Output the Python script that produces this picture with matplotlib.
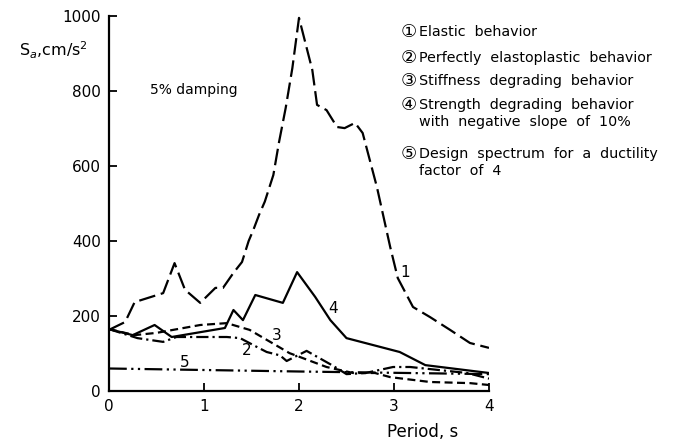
import matplotlib
matplotlib.use("Agg")
import matplotlib.pyplot as plt

# ---- data (period in s, Sa in cm/s^2) ----
period_1 = [0, 0.17, 0.27, 0.57, 0.69, 0.80, 0.96, 1.12, 1.20, 1.31, 1.40, 1.47, 1.52,
            1.58, 1.64, 1.73, 1.79, 1.86, 1.93, 2.00, 2.14, 2.19, 2.29, 2.40, 2.48,
            2.59, 2.67, 2.82, 2.96, 3.04, 3.20, 3.38, 3.59, 3.80, 4.00]
sa_1 = [163, 184, 237, 261, 341, 270, 235, 275, 275, 315, 344, 400, 430,
        470, 505, 576, 664, 755, 861, 995, 856, 763, 749, 704, 701,
        715, 688, 544, 384, 301, 224, 197, 163, 128, 115]

period_2 = [0, 0.30, 0.57, 0.71, 1.24, 1.38, 1.56, 1.66, 1.80, 1.87, 2.08, 2.36,
            2.50, 2.70, 2.99, 3.17, 3.77, 4.00]
sa_2 = [165, 141, 131, 144, 144, 141, 117, 104, 95, 80, 107, 67,
        45, 48, 64, 64, 48, 33]

period_3 = [0, 0.27, 0.50, 0.96, 1.24, 1.48, 1.90, 2.29, 2.57, 2.80, 2.96, 3.38, 3.80, 4.00]
sa_3 = [165, 149, 155, 176, 181, 163, 101, 64, 48, 48, 37, 24, 21, 16]

period_4 = [0, 0.25, 0.48, 0.66, 1.22, 1.31, 1.41, 1.54, 1.83, 1.98, 2.17, 2.33,
            2.50, 3.06, 3.33, 4.00]
sa_4 = [165, 149, 176, 144, 168, 216, 189, 256, 235, 317, 251, 189,
        141, 104, 69, 48]

period_5 = [0, 2.0, 4.0]
sa_5 = [60, 52, 45]

legend_lines = [
    ("\u2460", ["Elastic  behavior"]),
    ("\u2461", ["Perfectly  elastoplastic  behavior"]),
    ("\u2462", ["Stiffness  degrading  behavior"]),
    ("\u2463", ["Strength  degrading  behavior", "with  negative  slope  of  10%"]),
    ("\u2464", ["Design  spectrum  for  a  ductility", "factor  of  4"]),
]
legend_y = [32, 58, 81, 105, 154]  # pixel rows of the first line of each entry

W, H = 682, 443
fig = plt.figure(figsize=(W / 100, H / 100), dpi=100)
ax = fig.add_axes([109 / W, 1 - 391 / H, 380 / W, 375 / H])

lw = 1.6
ax.plot(period_1, sa_1, color="black", lw=lw, ls=(0, (7.5, 2.6)))
ax.plot(period_2, sa_2, color="black", lw=lw, ls=(0, (5.5, 1.8, 1.0, 1.8)))
ax.plot(period_3, sa_3, color="black", lw=lw, ls=(0, (3.6, 2.0)))
ax.plot(period_4, sa_4, color="black", lw=lw, ls="-")
ax.plot(period_5, sa_5, color="black", lw=lw, ls=(0, (8, 2, 1, 2, 1, 2)))

# curve numbers
for s, x, y in [("1", 3.12, 315), ("2", 1.45, 109), ("3", 1.77, 147),
                ("4", 2.36, 221), ("5", 0.80, 77)]:
    ax.text(x, y, s, fontsize=11, ha="center", va="center")

ax.text(0.43, 803, "5% damping", fontsize=10, ha="left", va="center")

ax.set_xlim(0, 4)
ax.set_ylim(0, 1000)
ax.set_xticks([0, 1, 2, 3, 4])
ax.set_yticks([0, 200, 400, 600, 800, 1000])
ax.tick_params(direction="in", length=6, width=1.3, labelsize=11, pad=6)
for side in ("top", "right"):
    ax.spines[side].set_visible(False)
for side in ("left", "bottom"):
    ax.spines[side].set_linewidth(1.6)
ax.patch.set_visible(False)

fig.text(53 / W, 1 - 50 / H, "S$_a$,cm/s$^2$", fontsize=11.5, ha="center", va="center")
fig.text(423 / W, 1 - 432 / H, "Period, s", fontsize=12, ha="center", va="center")

# numbered legend on the right
for (num, lines), y in zip(legend_lines, legend_y):
    fig.text(409 / W, 1 - y / H, num, fontsize=13, ha="center", va="center",
             family=["DejaVu Sans", "Noto Sans CJK JP"])
    for j, txt in enumerate(lines):
        fig.text(419 / W, 1 - (y + 17 * j) / H, txt, fontsize=10.3, ha="left", va="center")

fig.savefig("out.png", dpi=100)
